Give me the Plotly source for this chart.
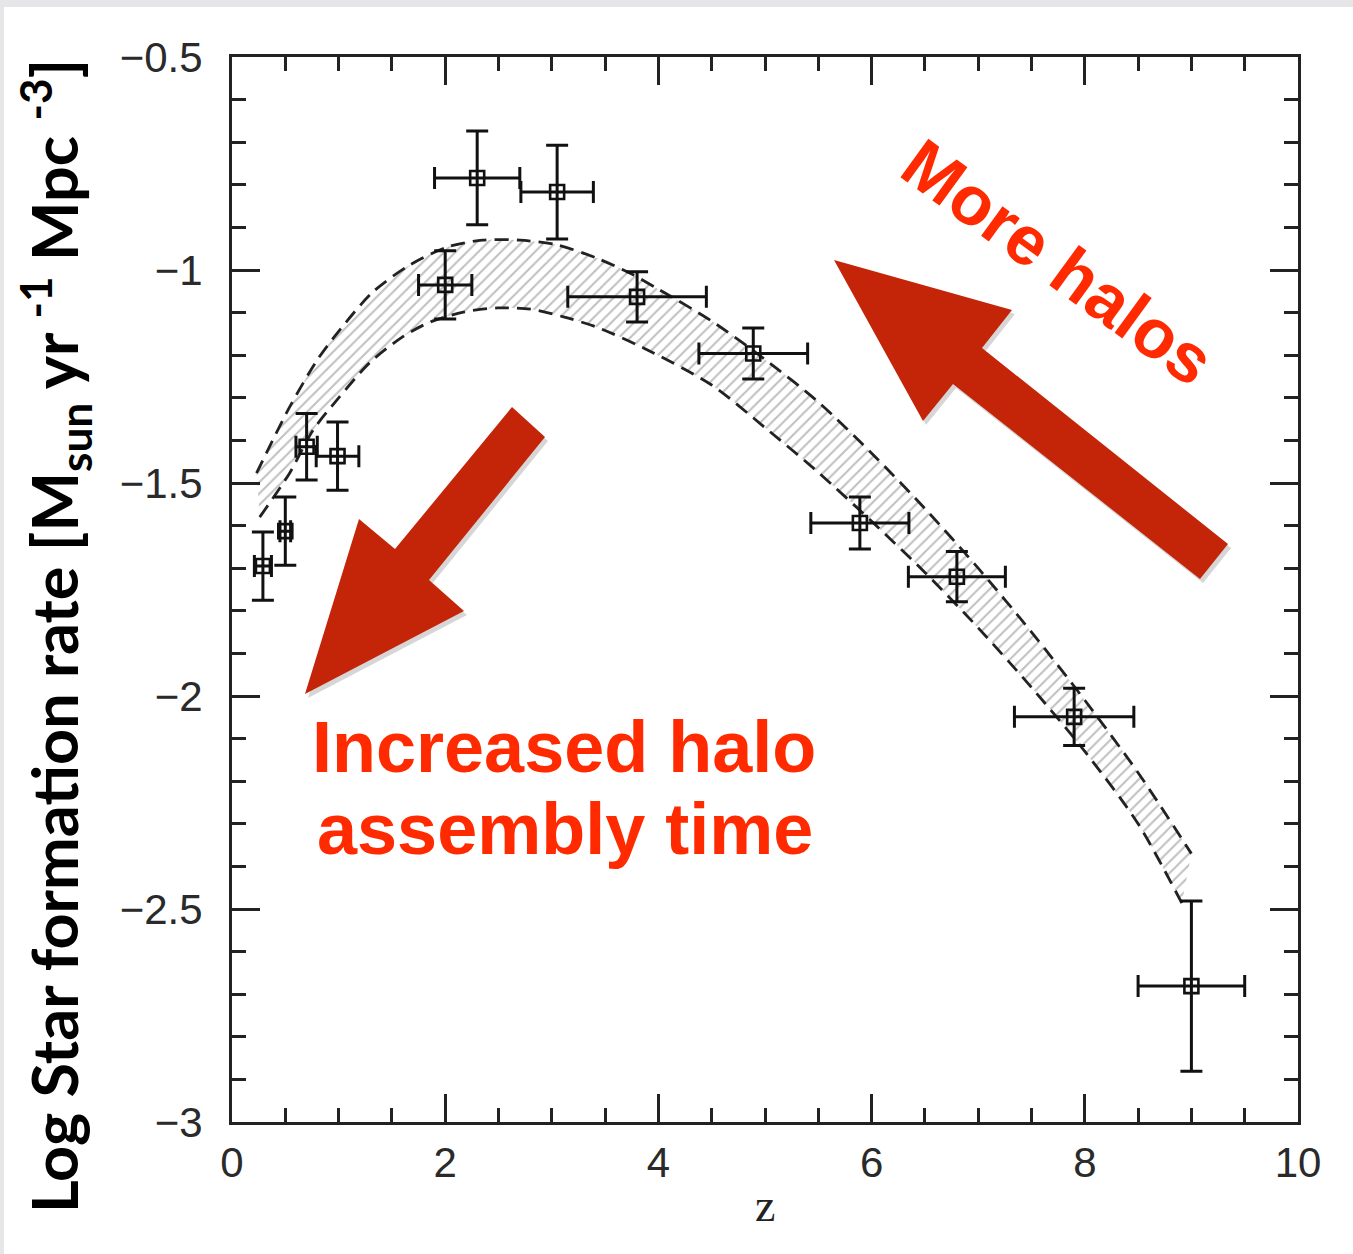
import plotly.graph_objects as go

# ---------------- data ----------------
z_obs = [0.29, 0.50, 0.70, 0.99, 2.00, 2.30, 3.05, 3.80, 4.89, 5.89, 6.80, 7.90, 9.00]
sfr_obs = [-1.695, -1.613, -1.415, -1.437, -1.035, -0.784, -0.817, -1.063, -1.196, -1.594, -1.720, -2.049, -2.681]
z_err = [0.08, 0.05, 0.10, 0.20, 0.25, 0.40, 0.34, 0.65, 0.51, 0.46, 0.455, 0.56, 0.50]
sfr_err = [0.08, 0.08, 0.078, 0.08, 0.08, 0.11, 0.11, 0.059, 0.06, 0.061, 0.059, 0.067, 0.20]

z_band_up = [0.23, 0.54, 0.80, 1.01, 1.32, 1.67, 2.02, 2.35, 2.70, 3.05, 3.42, 3.73, 4.0, 4.5, 5.0, 5.5, 6.0, 6.5, 7.0, 7.5, 8.0, 8.5, 9.0]
sfr_band_up = [-1.477, -1.322, -1.211, -1.141, -1.052, -0.988, -0.946, -0.930, -0.930, -0.941, -0.972, -1.007,
               -1.045, -1.120, -1.210, -1.310, -1.430, -1.560, -1.700, -1.850, -2.010, -2.180, -2.370]
z_band_lo = [0.26, 0.54, 0.76, 0.985, 1.29, 1.60, 1.86, 2.17, 2.49, 2.80, 3.11, 3.42, 3.86, 4.5, 5.0, 5.5, 6.0, 6.5, 7.0, 7.5, 8.0, 8.5, 8.91]
sfr_band_lo = [-1.58, -1.477, -1.376, -1.305, -1.218, -1.157, -1.122, -1.099, -1.089, -1.092, -1.110, -1.134, -1.183,
               -1.270, -1.370, -1.475, -1.590, -1.710, -1.840, -1.980, -2.130, -2.300, -2.486]

x_ticks = [0, 2, 4, 6, 8, 10]
y_ticks = [-3, -2.5, -2, -1.5, -1, -0.5]

# ---------------- layout geometry (pixels) ----------------
W, H = 1353, 1254
L, R, T, B = 232, 1298, 57, 1122


def px(x, y):
    return (x - L) / (R - L), (B - y) / (B - T)


def poly(points, dx=0, dy=0):
    parts = []
    for i, (x, y) in enumerate(points):
        a, b = px(x + dx, y + dy)
        parts.append(("M" if i == 0 else "L") + f"{a:.5f},{b:.5f}")
    return " ".join(parts) + " Z"


arrow_down = [(305, 694), (359, 519), (395, 549), (512, 407), (545, 437), (429, 580), (464, 611)]
arrow_up = [(834, 260), (1012, 310), (982, 348), (1228, 544), (1200, 579), (953, 384), (923, 421)]

AX = "#222222"
ARROW = "#C42508"
TXT = "#FF2A00"

fig = go.Figure()

# band
fig.add_trace(go.Scatter(x=z_band_lo, y=sfr_band_lo, mode="lines",
                         line=dict(color="#222", width=2.8, dash="14px,8px", shape="spline", smoothing=0.8),
                         hoverinfo="skip", showlegend=False))
fig.add_trace(go.Scatter(x=z_band_up, y=sfr_band_up, mode="lines", fill="tonexty",
                         fillcolor="rgba(0,0,0,0)",
                         fillpattern=dict(shape="/", size=8, solidity=0.25, fgcolor="#808080", bgcolor="white"),
                         line=dict(color="#222", width=2.8, dash="14px,8px", shape="spline", smoothing=0.8),
                         hoverinfo="skip", showlegend=False))

# data points
fig.add_trace(go.Scatter(x=z_obs, y=sfr_obs, mode="markers",
                         marker=dict(symbol="square-open", size=14, color="#111", line=dict(width=2.6, color="#111")),
                         error_x=dict(type="data", array=z_err, thickness=3, width=11, color="#111"),
                         error_y=dict(type="data", array=sfr_err, thickness=3, width=11, color="#111"),
                         showlegend=False))

shapes = [
    dict(type="rect", xref="paper", yref="paper", layer="below",
         x0=px(4, 0)[0], x1=px(W, 0)[0], y0=px(0, 7)[1], y1=px(0, H)[1],
         fillcolor="white", line=dict(width=0)),
    dict(type="path", xref="paper", yref="paper", path=poly(arrow_down, 3, 4),
         fillcolor="rgba(0,0,0,0.16)", line=dict(width=0)),
    dict(type="path", xref="paper", yref="paper", path=poly(arrow_down),
         fillcolor=ARROW, line=dict(width=0)),
    dict(type="path", xref="paper", yref="paper", path=poly(arrow_up, 3, 4),
         fillcolor="rgba(0,0,0,0.16)", line=dict(width=0)),
    dict(type="path", xref="paper", yref="paper", path=poly(arrow_up),
         fillcolor=ARROW, line=dict(width=0)),
]

ann = []
cx, cy = px(55, 636)
ann.append(dict(xref="paper", yref="paper", x=cx, y=cy, textangle=-90, showarrow=False,
                xanchor="center", yanchor="middle",
                text="Log Star formation rate [M<sub>sun</sub> yr <sup>-1</sup> Mpc <sup>-3</sup>]",
                font=dict(family="Lato", size=63, color="black", weight="bold")))
cx, cy = px(765, 1205)
ann.append(dict(xref="paper", yref="paper", x=cx, y=cy, showarrow=False, text="z",
                xanchor="center", yanchor="middle",
                font=dict(family="Liberation Serif", size=46, color=AX)))
cx, cy = px(1058, 262)
ann.append(dict(xref="paper", yref="paper", x=cx, y=cy, showarrow=False, text="More halos",
                textangle=36, xanchor="center", yanchor="middle",
                font=dict(family="Liberation Sans", size=69, color=TXT, weight="bold")))
cx, cy = px(564, 747)
ann.append(dict(xref="paper", yref="paper", x=cx, y=cy, showarrow=False, text="Increased halo",
                xanchor="center", yanchor="middle",
                font=dict(family="Liberation Sans", size=72, color=TXT, weight="bold")))
cx, cy = px(565, 829)
ann.append(dict(xref="paper", yref="paper", x=cx, y=cy, showarrow=False, text="assembly time",
                xanchor="center", yanchor="middle",
                font=dict(family="Liberation Sans", size=72, color=TXT, weight="bold")))

axis_common = dict(showline=True, linecolor=AX, linewidth=3, mirror="allticks",
                   ticks="inside", ticklen=28, tickwidth=2.5, tickcolor=AX,
                   showgrid=False, zeroline=False,
                   tickfont=dict(family="Liberation Sans", size=42, color="#2a2a2a"))

fig.update_layout(
    width=W, height=H,
    margin=dict(l=L, r=W - R, t=T, b=H - B),
    paper_bgcolor="#e6e6e9",
    plot_bgcolor="white",
    shapes=shapes,
    annotations=ann,
    xaxis=dict(range=[0, 10], tickvals=x_ticks, ticklabelstandoff=2,
               minor=dict(dtick=0.5, ticks="inside", ticklen=14, tickwidth=2.5, tickcolor=AX, showgrid=False),
               **axis_common),
    yaxis=dict(range=[-3, -0.5], tickvals=y_ticks, ticklabelstandoff=18,
               minor=dict(dtick=0.1, ticks="inside", ticklen=14, tickwidth=2.5, tickcolor=AX, showgrid=False),
               **axis_common),
)

fig.write_html("out.html", config={"displayModeBar": False},
               post_script="document.body.style.margin='0';document.body.style.overflow='hidden';")
